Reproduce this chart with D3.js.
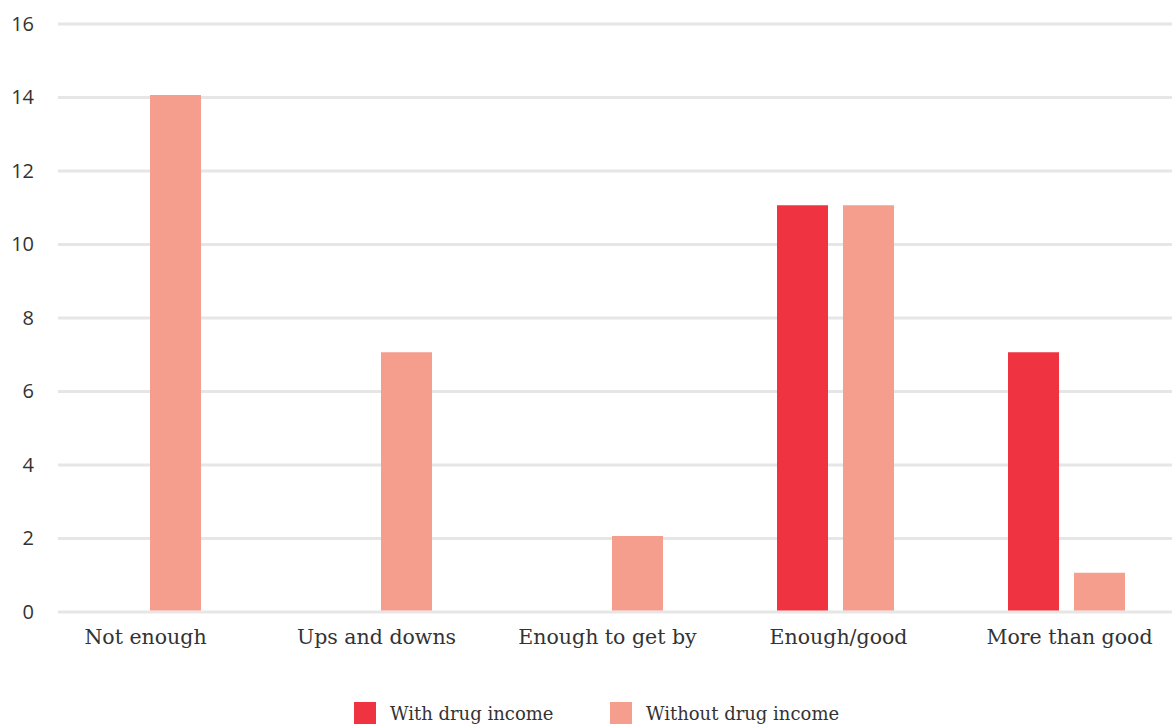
<!DOCTYPE html>
<html>
<head>
<meta charset="utf-8">
<script src="https://cdn.jsdelivr.net/npm/d3@7"></script>
<style>
  html, body { margin: 0; padding: 0; background: #fff; }
  svg { display: block; }
</style>
</head>
<body>
<svg id="chart" width="1172" height="726"></svg>
<script>
// Perceived income adequacy, by whether the household has drug income
const categories = ["Not enough", "Ups and downs", "Enough to get by", "Enough/good", "More than good"];
const seriesNames = ["With drug income", "Without drug income"];
const withDrugIncome = [0, 0, 0, 11, 7];
const withoutDrugIncome = [14, 7, 2, 11, 1];
const yTicks = [0, 2, 4, 6, 8, 10, 12, 14, 16];
const colors = ["#ef3340", "#f59e8e"];

const svg = d3.select("#chart");
const W = 1172;

const y = d3.scaleLinear().domain([0, 16]).range([611.5, 23.5]);

const x0 = d3.scaleBand().domain(categories).range([27, 1182]).padding(0);
const x1 = d3.scaleBand().domain(seriesNames)
  .range([(x0.bandwidth() - 117) / 2, (x0.bandwidth() + 117) / 2])
  .paddingInner(0.2273).paddingOuter(0);

const color = d3.scaleOrdinal().domain(seriesNames).range(colors);

// gridlines and value labels
const yAxis = d3.axisLeft(y).tickValues(yTicks).tickSize(-(W - 58)).tickPadding(24);
const gy = svg.append("g").attr("transform", "translate(58,0)").call(yAxis);
gy.select(".domain").remove();
gy.selectAll(".tick line").attr("stroke", "#e6e6e6").attr("stroke-width", 3);
gy.selectAll(".tick text")
  .attr("fill", "#333")
  .style("font-family", "'Open Sans', 'Noto Sans', sans-serif")
  .style("font-size", "20px")
  .attr("dy", "0.34em");

// bars
const rows = categories.map((c, i) => ({
  cat: c,
  vals: [
    { key: seriesNames[0], v: withDrugIncome[i] },
    { key: seriesNames[1], v: withoutDrugIncome[i] }
  ]
}));

const groups = svg.append("g").selectAll("g").data(rows).join("g")
  .attr("transform", d => `translate(${x0(d.cat)},0)`);

groups.selectAll("rect").data(d => d.vals.filter(s => s.v > 0)).join("rect")
  .attr("x", d => x1(d.key))
  .attr("width", x1.bandwidth())
  .attr("y", d => y(d.v) - 2)
  .attr("height", d => y(0) - y(d.v) + 1)
  .attr("fill", d => color(d.key));

// category axis
const xAxis = d3.axisBottom(x0).tickSize(0).tickPadding(0);
const gx = svg.append("g").attr("transform", "translate(3,637)").call(xAxis);
gx.select(".domain").remove();
gx.selectAll(".tick text")
  .attr("fill", "#333")
  .attr("dy", "0.34em")
  .style("font-family", "'DejaVu Serif', serif")
  .style("font-size", "20.5px");

// legend
const legendX = [354, 610];
const legend = svg.append("g").selectAll("g").data(seriesNames).join("g")
  .attr("transform", (d, i) => `translate(${legendX[i]},702)`);
legend.append("rect").attr("width", 22).attr("height", 22).attr("fill", d => color(d));
legend.append("text")
  .attr("x", 36).attr("y", 18)
  .attr("fill", "#333")
  .style("font-family", "'DejaVu Serif', serif")
  .style("font-size", "18px")
  .text(d => d);
</script>
</body>
</html>
